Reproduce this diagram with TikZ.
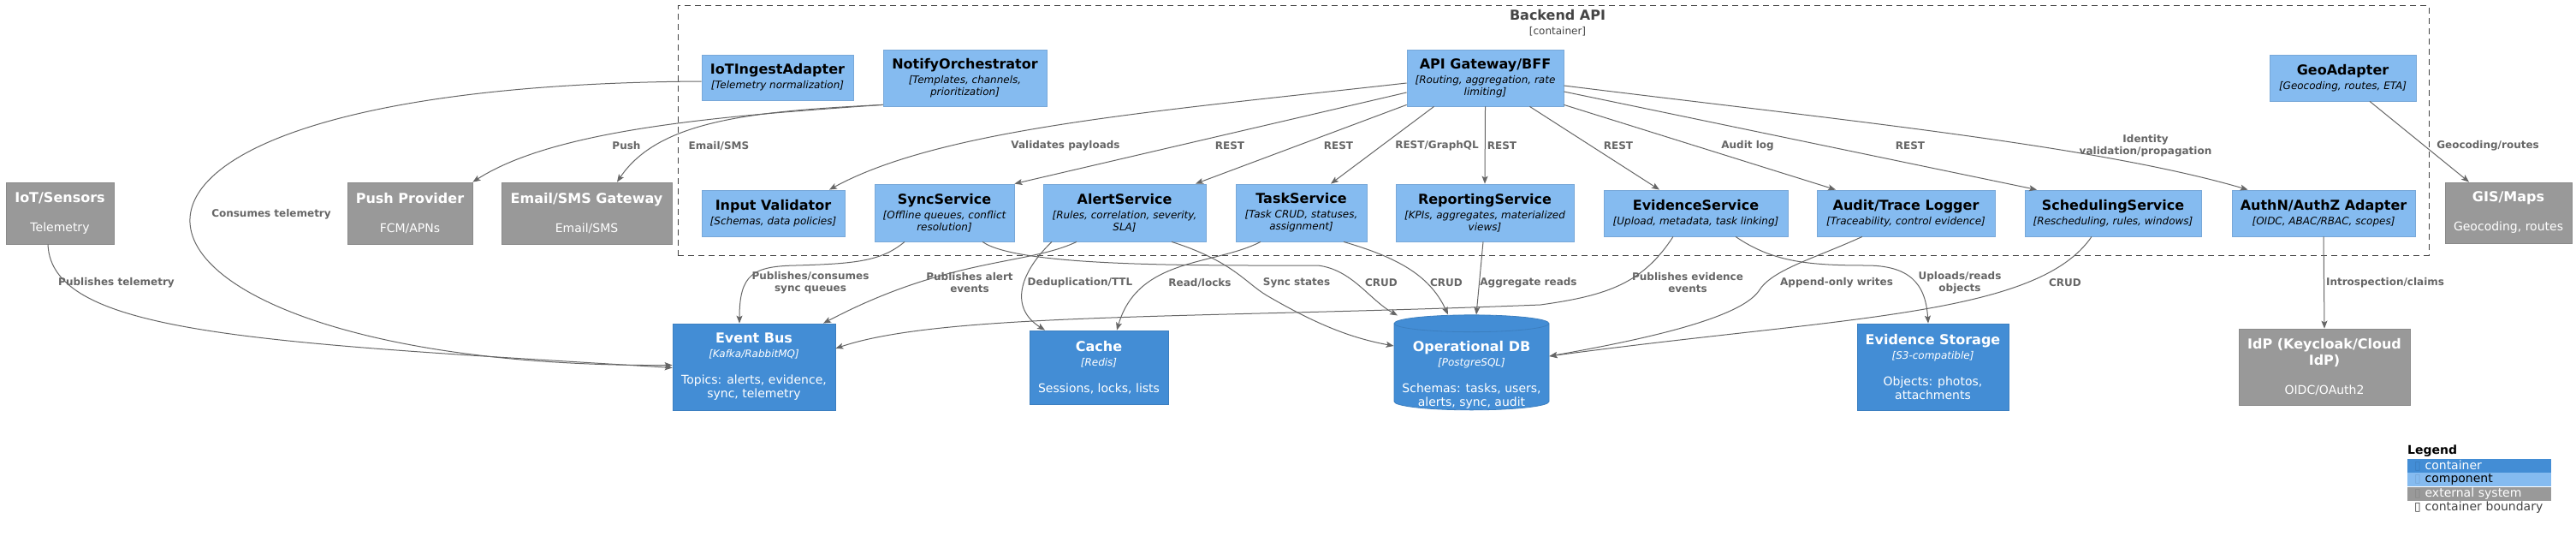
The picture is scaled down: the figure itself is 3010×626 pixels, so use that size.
\documentclass[tikz,border=0pt]{standalone}
\usepackage{fontspec}
\setmainfont{DejaVu Sans}
\usetikzlibrary{shapes.geometric, arrows.meta, positioning}

\definecolor{contblue}{HTML}{438DD5}
\definecolor{contline}{HTML}{3C7FC0}
\definecolor{compblue}{HTML}{85BBF0}
\definecolor{compline}{HTML}{78A8D8}
\definecolor{extgray}{HTML}{999999}
\definecolor{extline}{HTML}{8A8A8A}
\definecolor{linegray}{HTML}{666666}
\definecolor{boundline}{HTML}{444444}

\newcommand{\eltitle}{\fontsize{16}{19}\selectfont\bfseries}
\newcommand{\eldesc}{\fontsize{12}{14}\selectfont\mdseries\itshape}
\newcommand{\eltext}{\fontsize{14}{16}\selectfont\mdseries\upshape}

\begin{document}
\begin{tikzpicture}[
        x=1pt, y=-1pt,
        comp/.style={rectangle, fill=compblue, draw=compline, line width=0.8pt, text=black, align=center, inner sep=0pt, font=\fontsize{12}{14}\selectfont},
        cont/.style={rectangle, fill=contblue, draw=contline, line width=0.8pt, text=white, align=center, inner sep=0pt, font=\fontsize{14}{16}\selectfont},
        ext/.style={rectangle, fill=extgray, draw=extline, line width=0.8pt, text=white, align=center, inner sep=0pt, font=\fontsize{14}{19}\selectfont},
        database/.style={cylinder, shape border rotate=90, aspect=0.12, fill=contblue, draw=contline, line width=0.8pt, inner sep=0pt, text width=165pt, text height=78pt, text depth=0pt},
        dbtext/.style={text=white, align=center, inner sep=0pt, font=\fontsize{14}{16}\selectfont},
        boundary/.style={rectangle, draw=boundline, line width=1pt, dash pattern=on 7pt off 5pt},
        arrow/.style={draw=linegray, line width=1pt, ->, >={Stealth[length=9pt, width=7pt, inset=2pt]}},
        lbl/.style={text=linegray, align=center, inner sep=0pt, font=\fontsize{12}{14}\selectfont\bfseries},
        legrow/.style={rectangle, minimum width=168, minimum height=16, text width=152pt, inner xsep=8pt, inner ysep=0pt, align=left, font=\fontsize{14}{16}\selectfont}
    ]
    \path[fill=white, use as bounding box] (0,0) rectangle (3010,626);

    % Container boundary
    \node[boundary, minimum width=2046, minimum height=291] (backend) at (1815,152.5) {};
    \node[align=center, inner sep=0pt, text=boundline, font=\fontsize{12}{17}\selectfont] (backendtitle) at (1820,27) {\eltitle Backend API\\\fontsize{12}{14}\selectfont [container]};

    % External systems
    \node[ext, minimum width=126, minimum height=72] (iot) at (70,249) {\eltitle IoT/Sensors\\[15pt]\eltext Telemetry};
    \node[ext, minimum width=146, minimum height=72] (push) at (479,249) {\eltitle Push Provider\\[15pt]\eltext FCM/APNs};
    \node[ext, minimum width=199, minimum height=72] (emailgw) at (685.5,249) {\eltitle Email/SMS Gateway\\[15pt]\eltext Email/SMS};
    \node[ext, minimum width=148, minimum height=71] (gis) at (2931,248.5) {\eltitle GIS/Maps\\[15pt]\eltext Geocoding, routes};
    \node[ext, minimum width=200, minimum height=89] (idp) at (2716,428.5) {\eltitle IdP (Keycloak/Cloud\\\eltitle IdP)\\[15pt]\eltext OIDC/OAuth2};

    % Components - top row
    \node[comp, minimum width=177, minimum height=53] (iotingest) at (908.5,90.5) {\eltitle IoTIngestAdapter\\[3pt]\eldesc [Telemetry normalization]};
    \node[comp, minimum width=191, minimum height=66] (notify) at (1127.5,91) {\eltitle NotifyOrchestrator\\[3pt]\eldesc [Templates, channels,\\\eldesc prioritization]};
    \node[comp, minimum width=183, minimum height=66] (gateway) at (1735.5,91) {\eltitle API Gateway/BFF\\[3pt]\eldesc [Routing, aggregation, rate\\\eldesc limiting]};
    \node[comp, minimum width=171, minimum height=54] (geo) at (2737.5,91) {\eltitle GeoAdapter\\[3pt]\eldesc [Geocoding, routes, ETA]};

    % Components - bottom row
    \node[comp, minimum width=167, minimum height=54] (validator) at (903.5,249) {\eltitle Input Validator\\[3pt]\eldesc [Schemas, data policies]};
    \node[comp, minimum width=163, minimum height=67] (sync) at (1103.5,248.5) {\eltitle SyncService\\[3pt]\eldesc [Offline queues, conflict\\\eldesc resolution]};
    \node[comp, minimum width=190, minimum height=67] (alert) at (1314,248.5) {\eltitle AlertService\\[3pt]\eldesc [Rules, correlation, severity,\\\eldesc SLA]};
    \node[comp, minimum width=153, minimum height=67] (task) at (1520.5,248.5) {\eltitle TaskService\\[3pt]\eldesc [Task CRUD, statuses,\\\eldesc assignment]};
    \node[comp, minimum width=208, minimum height=67] (reporting) at (1735,248.5) {\eltitle ReportingService\\[3pt]\eldesc [KPIs, aggregates, materialized\\\eldesc views]};
    \node[comp, minimum width=215, minimum height=54] (evidence) at (1981.5,249) {\eltitle EvidenceService\\[3pt]\eldesc [Upload, metadata, task linking]};
    \node[comp, minimum width=208, minimum height=54] (audit) at (2227,249) {\eltitle Audit/Trace Logger\\[3pt]\eldesc [Traceability, control evidence]};
    \node[comp, minimum width=206, minimum height=54] (scheduling) at (2469,249) {\eltitle SchedulingService\\[3pt]\eldesc [Rescheduling, rules, windows]};
    \node[comp, minimum width=214, minimum height=54] (authn) at (2715,249) {\eltitle AuthN/AuthZ Adapter\\[3pt]\eldesc [OIDC, ABAC/RBAC, scopes]};

    % Containers
    \node[cont, minimum width=190, minimum height=101] (eventbus) at (881,428.5) {\eltitle Event Bus\\[1pt]\eldesc [Kafka/RabbitMQ]\\[15pt]\eltext Topics: alerts, evidence,\\\eltext sync, telemetry};
    \node[cont, minimum width=162, minimum height=86] (cache) at (1284,429) {\eltitle Cache\\[1pt]\eldesc [Redis]\\[15pt]\eltext Sessions, locks, lists};
    \node[database, minimum width=181, minimum height=111] (opdb) at (1719.5,428.5) {};
    \node[dbtext] (opdblabel) at ([yshift=-9pt]opdb.center) {\eltitle Operational DB\\[1pt]\eldesc [PostgreSQL]\\[15pt]\eltext Schemas: tasks, users,\\\eltext alerts, sync, audit};
    \node[cont, minimum width=177, minimum height=101] (evstore) at (2258.5,428.5) {\eltitle Evidence Storage\\[1pt]\eldesc [S3-compatible]\\[15pt]\eltext Objects: photos,\\\eltext attachments};

    % Connections - telemetry
    \draw[arrow] ([xshift=-14pt]iot.south) .. controls (60,390) and (300,400) .. ([yshift=-1pt]eventbus.west)
        node[lbl] at (136,330) {Publishes telemetry};
    \draw[arrow] ([yshift=-4.5pt]iotingest.west) .. controls (-30,100) and (90,430) .. ([yshift=2pt]eventbus.west)
        node[lbl] at (317,250) {Consumes telemetry};

    % Connections - notifications
    \draw[arrow] ([yshift=2pt]notify.south west) .. controls (850,135) and (650,150) .. (push.north east)
        node[lbl] at (732,170) {Push};
    \draw[arrow] ([yshift=2pt]notify.south west) .. controls (880,130) and (770,140) .. ([xshift=35.5pt]emailgw.north)
        node[lbl] at (840,170) {Email/SMS};

    % Connections - gateway to components
    \draw[arrow] ([yshift=-6pt]gateway.west) .. controls (1350,130) and (1100,150) .. ([xshift=65.5pt]validator.north)
        node[lbl] at (1245,170) {Validates payloads};
    \draw[arrow] ([yshift=-17pt]gateway.west) -- (sync.north east) node[lbl] at (1437,170) {REST};
    \draw[arrow] ([yshift=2pt]gateway.south west) -- ([xshift=83pt]alert.north) node[lbl] at (1564,170) {REST};
    \draw[arrow] ([xshift=32pt]gateway.south west) -- ([xshift=34.5pt]task.north) node[lbl] at (1679,170) {REST/GraphQL};
    \draw[arrow] (gateway.south) -- (reporting.north) node[lbl] at (1755,170) {REST};
    \draw[arrow] ([xshift=-40pt]gateway.south east) -- ([xshift=-42.5pt]evidence.north) node[lbl] at (1891,170) {REST};
    \draw[arrow] ([yshift=2pt]gateway.south east) -- ([xshift=-82pt]audit.north) node[lbl] at (2042,170) {Audit log};
    \draw[arrow] ([yshift=-16pt]gateway.east) -- ([xshift=-89pt]scheduling.north) node[lbl] at (2232,170) {REST};
    \draw[arrow] ([yshift=-9pt]gateway.east) .. controls (2150,140) and (2450,170) .. ([xshift=19pt]authn.north west)
        node[lbl] at (2507,170) {Identity\\validation/propagation};
    \draw[arrow] ([xshift=31.5pt]geo.south) -- ([xshift=-46pt]gis.north) node[lbl] at (2907,170) {Geocoding/routes};

    % Connections - components to data
    \draw[arrow] ([xshift=-46.5pt]sync.south) .. controls (1030,305) and (1000,308) .. (930,310) .. controls (880,311) and (864,320) .. ([xshift=-17pt]eventbus.north)
        node[lbl] at (947,330) {Publishes/consumes\\sync queues};
    \draw[arrow] ([xshift=44.5pt]sync.south) .. controls (1190,312) and (1400,310) .. (1540,310) .. controls (1580,315) and (1600,350) .. ([xshift=-86.5pt, yshift=-1pt]opdb.north)
        node[lbl] at (1515,330) {Sync states};
    \draw[arrow] ([xshift=-56pt]alert.south) .. controls (1200,310) and (1110,300) .. ([xshift=81pt]eventbus.north)
        node[lbl] at (1133,330) {Publishes alert\\events};
    \draw[arrow] ([xshift=-85pt]alert.south) .. controls (1190,320) and (1180,360) .. ([xshift=-63pt]cache.north)
        node[lbl] at (1262,330) {Deduplication/TTL};
    \draw[arrow] ([xshift=55pt]alert.south) .. controls (1440,305) and (1455,330) .. (1480,345) .. controls (1540,380) and (1580,395) .. ([yshift=24.5pt]opdb.west)
        node[lbl] at (1614,330) {CRUD};
    \draw[arrow] ([xshift=-47.5pt]task.south) .. controls (1420,310) and (1330,300) .. ([xshift=21pt]cache.north)
        node[lbl] at (1402,330) {Read/locks};
    \draw[arrow] ([xshift=49.5pt]task.south) .. controls (1630,300) and (1670,320) .. ([xshift=-27.5pt]opdb.north)
        node[lbl] at (1690,330) {CRUD};
    \draw[arrow] ([xshift=-2pt]reporting.south) -- ([xshift=5.5pt]opdb.north) node[lbl] at (1786,330) {Aggregate reads};
    \draw[arrow] ([xshift=-26.5pt]evidence.south) .. controls (1920,330) and (1880,345) .. (1800,356) .. controls (1400,372) and (1100,365) .. ([yshift=21.5pt]eventbus.east)
        node[lbl] at (1972,330) {Publishes evidence\\events};
    \draw[arrow] ([xshift=46.5pt]evidence.south) .. controls (2070,305) and (2110,310) .. (2180,310) .. controls (2230,310) and (2250,330) .. ([xshift=-5.5pt]evstore.north)
        node[lbl] at (2290,330) {Uploads/reads\\objects};
    \draw[arrow] ([xshift=-51pt]audit.south) .. controls (2120,302) and (2070,315) .. (2055,340) .. controls (2030,375) and (1900,400) .. ([yshift=12.5pt]opdb.east)
        node[lbl] at (2146,330) {Append-only writes};
    \draw[arrow] ([xshift=-25pt]scheduling.south) .. controls (2380,370) and (2150,370) .. ([yshift=12.5pt]opdb.east)
        node[lbl] at (2413,330) {CRUD};
    \draw[arrow] (authn.south) -- (idp.north) node[lbl] at (2787,330) {Introspection/claims};

    % Legend
    \node[anchor=west, inner sep=0pt, font=\fontsize{14}{16}\selectfont\bfseries] (legend) at (2813,527) {Legend};
    \node[legrow, fill=contblue, text=white, anchor=north west] (legcont) at (2813,535.5) {\textcolor{contline}{▯} container};
    \node[legrow, fill=compblue, text=black, below=0pt of legcont] (legcomp) {\textcolor{compline}{▯} component};
    \node[legrow, fill=extgray, text=white, below=0pt of legcomp] (legext) {\textcolor{extline}{▯} external system};
    \node[legrow, text=boundline, below=0pt of legext] (legbound) {▯ container boundary};

\end{tikzpicture}
\end{document}
